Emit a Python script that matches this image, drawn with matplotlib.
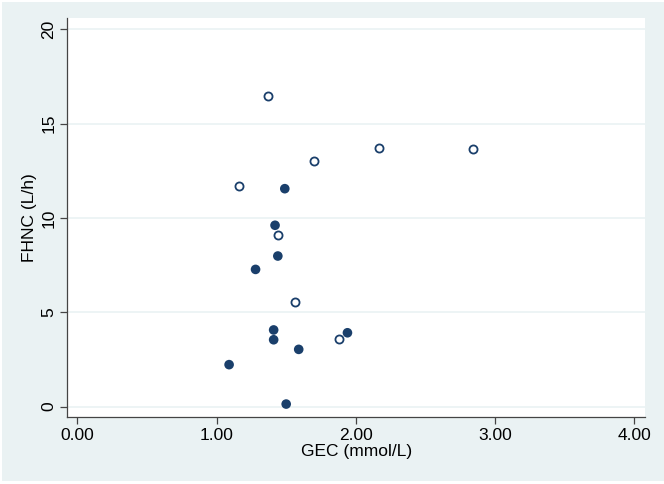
import matplotlib
matplotlib.use('agg')
from matplotlib import pyplot as plt
from matplotlib.patches import Rectangle

# GEC (mmol/L) vs FHNC (L/h), two groups
hollow_x = [1.37, 1.16, 1.70, 2.17, 2.84, 1.44, 1.56, 1.88]
hollow_y = [16.48, 11.71, 13.02, 13.71, 13.64, 9.09, 5.56, 3.56]
filled_x = [1.49, 1.42, 1.44, 1.28, 1.41, 1.41, 1.94, 1.59, 1.09, 1.50]
filled_y = [11.55, 9.61, 7.98, 7.27, 4.06, 3.54, 3.91, 3.03, 2.22, 0.13]

xticks = [0, 1, 2, 3, 4]
xticklabels = ['0.00', '1.00', '2.00', '3.00', '4.00']
yticks = [0, 5, 10, 15, 20]

navy = '#1a3f6b'
bg = '#eaf2f3'

plt.rcParams['font.family'] = ['Liberation Sans Narrow', 'Liberation Sans', 'DejaVu Sans']

fig = plt.figure(figsize=(6.64, 4.84), dpi=100, facecolor='white')
fig.add_artist(Rectangle((2 / 664, 3 / 484), 1, 1 - 5 / 484, transform=fig.transFigure,
                         facecolor=bg, edgecolor='none', zorder=-10))
ax = fig.add_axes([67.3 / 664, 1 - 416.7 / 484, (645 - 67.3) / 664, (416.7 - 18) / 484])
ax.set_zorder(1)
ax.set_facecolor('white')

ax.scatter(hollow_x, hollow_y, s=34, facecolors='white', edgecolors=navy, linewidths=1.3, zorder=3)
ax.scatter(filled_x, filled_y, s=48, color=navy, edgecolors='none', zorder=3)

ax.set_xlim(-0.072, 4.077)
ax.set_ylim(-0.54, 20.6)
ax.set_xticks(xticks)
ax.set_xticklabels(xticklabels)
ax.set_yticks(yticks)
ax.set_yticklabels([str(v) for v in yticks], rotation=90, va='center')

for y in yticks:
    ax.axhline(y, color=bg, lw=1.2, zorder=1)

for s in ['top', 'right']:
    ax.spines[s].set_visible(False)
for s in ['left', 'bottom']:
    ax.spines[s].set_color('#444444')
    ax.spines[s].set_linewidth(0.9)

ax.tick_params(axis='both', length=5, width=0.9, color='#444444', labelsize=12.5, pad=3)
ax.set_xlabel('GEC (mmol/L)', fontsize=12.5, labelpad=1)
ax.set_ylabel('FHNC (L/h)', fontsize=12.5, labelpad=3)

fig.savefig('out.png', dpi=100, facecolor=fig.get_facecolor())
